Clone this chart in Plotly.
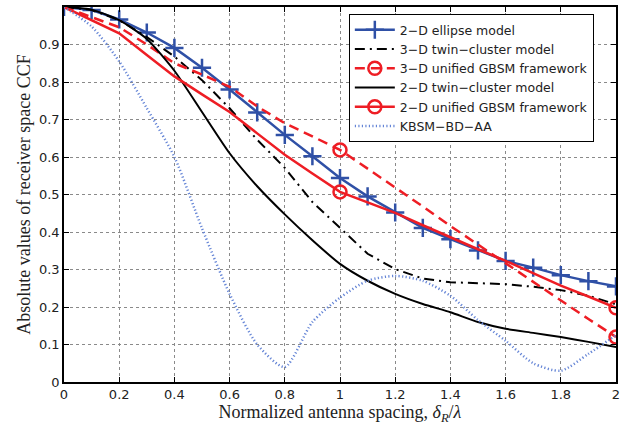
import plotly.graph_objects as go

x = [0.0, 0.1, 0.2, 0.3, 0.4, 0.5, 0.6, 0.7, 0.8, 0.9, 1.0,
     1.1, 1.2, 1.3, 1.4, 1.5, 1.6, 1.7, 1.8, 1.9, 2.0]

ellipse_2d = [1.0, 0.992, 0.967, 0.932, 0.891, 0.838, 0.780, 0.719, 0.659, 0.602, 0.544,
              0.495, 0.452, 0.411, 0.381, 0.351, 0.323, 0.305, 0.285, 0.269, 0.255]
twin_3d = [1.0, 0.992, 0.965, 0.92, 0.868, 0.805, 0.73, 0.646, 0.571, 0.48, 0.411,
           0.342, 0.301, 0.276, 0.266, 0.264, 0.261, 0.254, 0.245, 0.23, 0.207]
unified_3d = [1.0, 0.973, 0.946, 0.90, 0.85, 0.82, 0.787, 0.735, 0.69, 0.655, 0.619,
              0.569, 0.519, 0.468, 0.416, 0.366, 0.316, 0.266, 0.217, 0.168, 0.12]
twin_2d = [1.0, 0.993, 0.965, 0.915, 0.83, 0.72, 0.61, 0.522, 0.447, 0.378, 0.315,
           0.27, 0.235, 0.208, 0.186, 0.16, 0.142, 0.131, 0.12, 0.107, 0.093]
unified_2d = [1.0, 0.965, 0.93, 0.872, 0.815, 0.767, 0.72, 0.663, 0.606, 0.556, 0.507,
              0.479, 0.451, 0.418, 0.385, 0.354, 0.323, 0.29, 0.257, 0.228, 0.198]
kbsm = [1.0, 0.948, 0.855, 0.73, 0.6, 0.41, 0.235, 0.10, 0.04, 0.16, 0.225,
        0.27, 0.283, 0.27, 0.23, 0.165, 0.11, 0.05, 0.03, 0.075, 0.125]

circle_x = [1.0, 2.0]

names = ["2\u2212D ellipse model", "3\u2212D twin\u2212cluster model",
         "3\u2212D unified GBSM framework", "2\u2212D twin\u2212cluster model",
         "2\u2212D unified GBSM framework", "KBSM\u2212BD\u2212AA"]

BLUE = "#2f50a6"
RED = "#ee1d24"
LBLUE = "#6585d6"

fig = go.Figure()

def pick(xs, ys, sel):
    return [ys[xs.index(v)] for v in sel]

circ = dict(symbol="circle-open", size=13, color=RED, line=dict(color=RED, width=2.5))

# 2-D ellipse model
fig.add_trace(go.Scatter(x=x, y=ellipse_2d, mode="lines+markers", name=names[0],
                         line=dict(color=BLUE, width=2.5),
                         marker=dict(symbol="cross-thin", size=13, color=BLUE,
                                     line=dict(color=BLUE, width=2.5))))
# 3-D twin-cluster
fig.add_trace(go.Scatter(x=x, y=twin_3d, mode="lines", name=names[1],
                         line=dict(color="black", width=2, dash="10px,5px,2px,5px")))
# 3-D unified (line + markers via separate traces)
fig.add_trace(go.Scatter(x=x, y=unified_3d, mode="lines", name=names[2],
                         legendgroup="u3", showlegend=False,
                         line=dict(color=RED, width=2.5, dash="10px,6px")))
fig.add_trace(go.Scatter(x=circle_x, y=pick(x, unified_3d, circle_x), mode="markers",
                         name=names[2], legendgroup="u3", showlegend=False, marker=circ))
fig.add_trace(go.Scatter(x=[None], y=[None], mode="lines+markers", name=names[2],
                         legendgroup="u3",
                         line=dict(color=RED, width=2.5, dash="10px,6px"), marker=circ))
# 2-D twin-cluster
fig.add_trace(go.Scatter(x=x, y=twin_2d, mode="lines", name=names[3],
                         line=dict(color="black", width=2, shape="spline", smoothing=0.6)))
# 2-D unified
fig.add_trace(go.Scatter(x=x, y=unified_2d, mode="lines", name=names[4],
                         legendgroup="u2", showlegend=False,
                         line=dict(color=RED, width=2.5)))
fig.add_trace(go.Scatter(x=circle_x, y=pick(x, unified_2d, circle_x), mode="markers",
                         name=names[4], legendgroup="u2", showlegend=False, marker=circ))
fig.add_trace(go.Scatter(x=[None], y=[None], mode="lines+markers", name=names[4],
                         legendgroup="u2",
                         line=dict(color=RED, width=2.5), marker=circ))
# KBSM-BD-AA
fig.add_trace(go.Scatter(x=x, y=kbsm, mode="lines", name=names[5],
                         line=dict(color=LBLUE, width=2.5, dash="1.2px,2.3px",
                                   shape="spline", smoothing=0.7)))

axis_common = dict(showline=True, linecolor="black", linewidth=1.5, mirror="allticks",
                   ticks="inside", ticklen=5, tickcolor="black",
                   showgrid=True, gridcolor="#8a8a8a", griddash="dot", gridwidth=1,
                   zeroline=False,
                   tickfont=dict(family="DejaVu Sans", size=13, color="#222"))

fig.update_xaxes(range=[0, 2], tickvals=[0, 0.2, 0.4, 0.6, 0.8, 1, 1.2, 1.4, 1.6, 1.8, 2],
                 ticktext=["0", "0.2", "0.4", "0.6", "0.8", "1", "1.2", "1.4", "1.6", "1.8", "2"],
                 title=dict(text="Normalized antenna spacing, <i>δ<sub>R</sub></i>/<i>λ</i>",
                            font=dict(family="Liberation Serif", size=18, color="#222"),
                            standoff=2),
                 **axis_common)
fig.update_yaxes(range=[0, 1], tickvals=[0, 0.1, 0.2, 0.3, 0.4, 0.5, 0.6, 0.7, 0.8, 0.9],
                 ticktext=["0", "0.1", "0.2", "0.3", "0.4", "0.5", "0.6", "0.7", "0.8", "0.9"],
                 title=dict(text="Absolute values of receiver space CCF",
                            font=dict(family="Liberation Serif", size=18, color="#222"),
                            standoff=4),
                 **axis_common)

fig.update_layout(width=639, height=429,
                  margin=dict(l=64, r=23, t=5, b=47),
                  plot_bgcolor="white", paper_bgcolor="white",
                  legend=dict(x=0.516, y=0.981, xanchor="left", yanchor="top",
                              bgcolor="white", bordercolor="black", borderwidth=1,
                              font=dict(family="DejaVu Sans", size=12.5, color="#222"),
                              tracegroupgap=0, itemwidth=40),
                  showlegend=True)

fig.write_html("out.html")
